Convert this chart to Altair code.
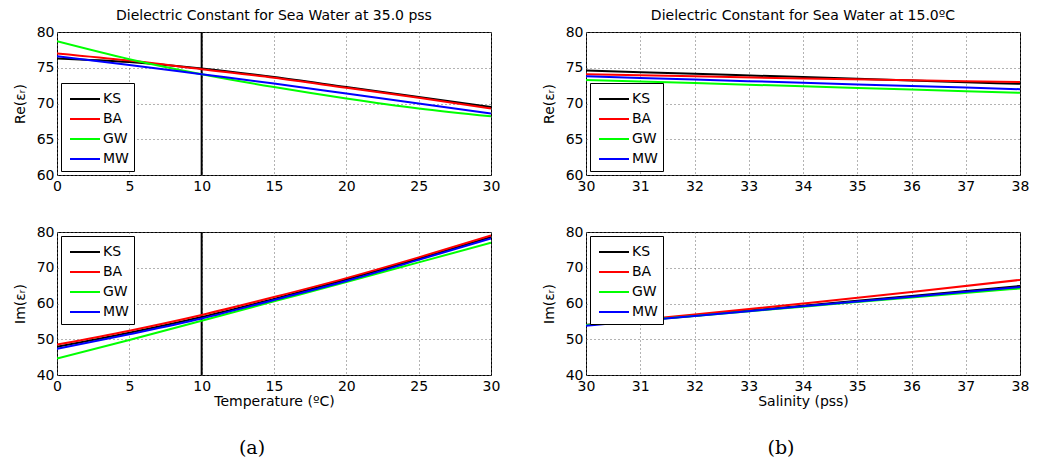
import altair as alt
import pandas as pd

MODELS = ["KS", "BA", "GW", "MW"]
COLORS = ["#000000", "#ff0000", "#00ff00", "#0000ff"]

# Panel (a): vs temperature at 35.0 pss
temp = [0, 5, 10, 15, 20, 25, 30]
re_T_KS = [76.3, 75.8, 74.9, 73.7, 72.3, 70.9, 69.5]
re_T_BA = [77.0, 76.0, 74.8, 73.6, 72.2, 70.8, 69.3]
re_T_GW = [78.7, 76.2, 74.1, 72.3, 70.7, 69.3, 68.2]
re_T_MW = [76.6, 75.4, 74.1, 72.8, 71.4, 70.0, 68.6]

im_T_KS = [47.9, 51.8, 56.2, 61.3, 66.7, 72.5, 78.6]
im_T_BA = [48.5, 52.4, 56.8, 61.8, 67.1, 72.9, 79.0]
im_T_GW = [44.6, 49.8, 55.2, 60.6, 66.0, 71.5, 77.0]
im_T_MW = [47.3, 51.4, 55.8, 61.0, 66.3, 72.2, 78.2]

vline_temp = [10]

# Panel (b): vs salinity at 15.0 C
sal = [30, 32, 34, 36, 38]
re_S_KS = [74.6, 74.15, 73.7, 73.2, 72.75]
re_S_BA = [74.1, 73.8, 73.5, 73.25, 73.0]
re_S_GW = [73.3, 72.85, 72.4, 71.95, 71.5]
re_S_MW = [73.8, 73.35, 72.9, 72.45, 72.0]

im_S_KS = [54.0, 56.6, 59.4, 62.1, 64.9]
im_S_BA = [54.0, 56.9, 60.0, 63.2, 66.6]
im_S_GW = [54.0, 56.5, 59.1, 61.7, 64.2]
im_S_MW = [53.8, 56.5, 59.2, 61.9, 64.6]

temp_ticks = [0, 5, 10, 15, 20, 25, 30]
sal_ticks = [30, 31, 32, 33, 34, 35, 36, 37, 38]
re_ticks = [60, 65, 70, 75, 80]
im_ticks = [40, 50, 60, 70, 80]

FONT = "DejaVu Sans"
W, H = 434, 143


def long_df(xs, series, xname):
    rows = []
    for m, vals in zip(MODELS, series):
        for x, v in zip(xs, vals):
            rows.append({xname: x, "value": v, "model": m})
    return pd.DataFrame(rows)


def panel(df, xname, xdom, xticks, ydom, yticks, ytitle, legend_orient,
          xtitle=None, title=None, vline=None):
    xaxis = alt.Axis(values=xticks, title=xtitle) if xtitle else alt.Axis(values=xticks, title=None)
    line = alt.Chart(df).mark_line(strokeWidth=2, clip=True, interpolate="monotone").encode(
        x=alt.X(f"{xname}:Q", scale=alt.Scale(domain=xdom, nice=False, zero=False), axis=xaxis),
        y=alt.Y("value:Q", scale=alt.Scale(domain=ydom, nice=False, zero=False),
                axis=alt.Axis(values=yticks, title=ytitle)),
        color=alt.Color("model:N", scale=alt.Scale(domain=MODELS, range=COLORS),
                        sort=MODELS,
                        legend=alt.Legend(orient=legend_orient, title=None)),
        detail="model:N",
    )
    layers = []
    if vline:
        rule = alt.Chart(pd.DataFrame({xname: vline})).mark_rule(
            color="black", strokeWidth=2).encode(x=alt.X(f"{xname}:Q"))
        layers.append(rule)
    layers.append(line)
    ch = alt.layer(*layers).properties(width=W, height=H)
    if title is not None:
        ch = ch.properties(title=title)
    return ch


top_title = lambda t: alt.TitleParams(text=t, orient="top", font=FONT, fontSize=14,
                                      fontWeight="normal", color="black", offset=2, anchor="middle")
cap_title = lambda t: alt.TitleParams(text=t, orient="bottom", font="DejaVu Serif", fontSize=19,
                                      fontWeight="normal", color="black", offset=31,
                                      anchor="middle", dx=-22)

tl = panel(long_df(temp, [re_T_KS, re_T_BA, re_T_GW, re_T_MW], "temp"), "temp", [0, 30], temp_ticks,
           [60, 80], re_ticks, "Re(εᵣ)", "bottom-left",
           title=top_title("Dielectric Constant for Sea Water at 35.0 pss"), vline=vline_temp)
tr = panel(long_df(sal, [re_S_KS, re_S_BA, re_S_GW, re_S_MW], "sal"), "sal", [30, 38], sal_ticks,
           [60, 80], re_ticks, "Re(εᵣ)", "bottom-left",
           title=top_title("Dielectric Constant for Sea Water at 15.0ºC"))
bl = panel(long_df(temp, [im_T_KS, im_T_BA, im_T_GW, im_T_MW], "temp"), "temp", [0, 30], temp_ticks,
           [40, 80], im_ticks, "Im(εᵣ)", "top-left", xtitle="Temperature (ºC)",
           title=cap_title("(a)"), vline=vline_temp)
br = panel(long_df(sal, [im_S_KS, im_S_BA, im_S_GW, im_S_MW], "sal"), "sal", [30, 38], sal_ticks,
           [40, 80], im_ticks, "Im(εᵣ)", "top-left", xtitle="Salinity (pss)",
           title=cap_title("(b)"))

chart = alt.ConcatChart(
    concat=[tl, tr, bl, br], columns=2,
    spacing={"row": 57, "column": 95}, bounds="flush",
).resolve_scale(color="independent").resolve_legend(color="independent").properties(
    padding={"left": 4, "top": 0, "right": 0, "bottom": 0}
).configure_view(
    stroke="black", strokeWidth=1
).configure_axis(
    labelFont=FONT, labelFontSize=14, labelColor="black", labelFlush=False,
    titleFont=FONT, titleFontSize=14, titleFontWeight="normal", titleColor="black",
    grid=True, gridColor="#666666", gridDash=[1, 3], gridWidth=1,
    domain=False, ticks=False,
).configure_axisX(
    labelPadding=4, titlePadding=1,
).configure_axisY(
    labelPadding=3, titlePadding=9,
).configure_legend(
    strokeColor="black", fillColor="white", padding=5, offset=4,
    symbolType="M-1.5,0H1.5", symbolSize=400, symbolStrokeWidth=2,
    symbolOffset=8,
    labelFont=FONT, labelFontSize=14, labelColor="black", labelOffset=7,
    rowPadding=2, cornerRadius=0,
)

chart.save("out.html", embed_options={"renderer": "svg", "actions": False})
